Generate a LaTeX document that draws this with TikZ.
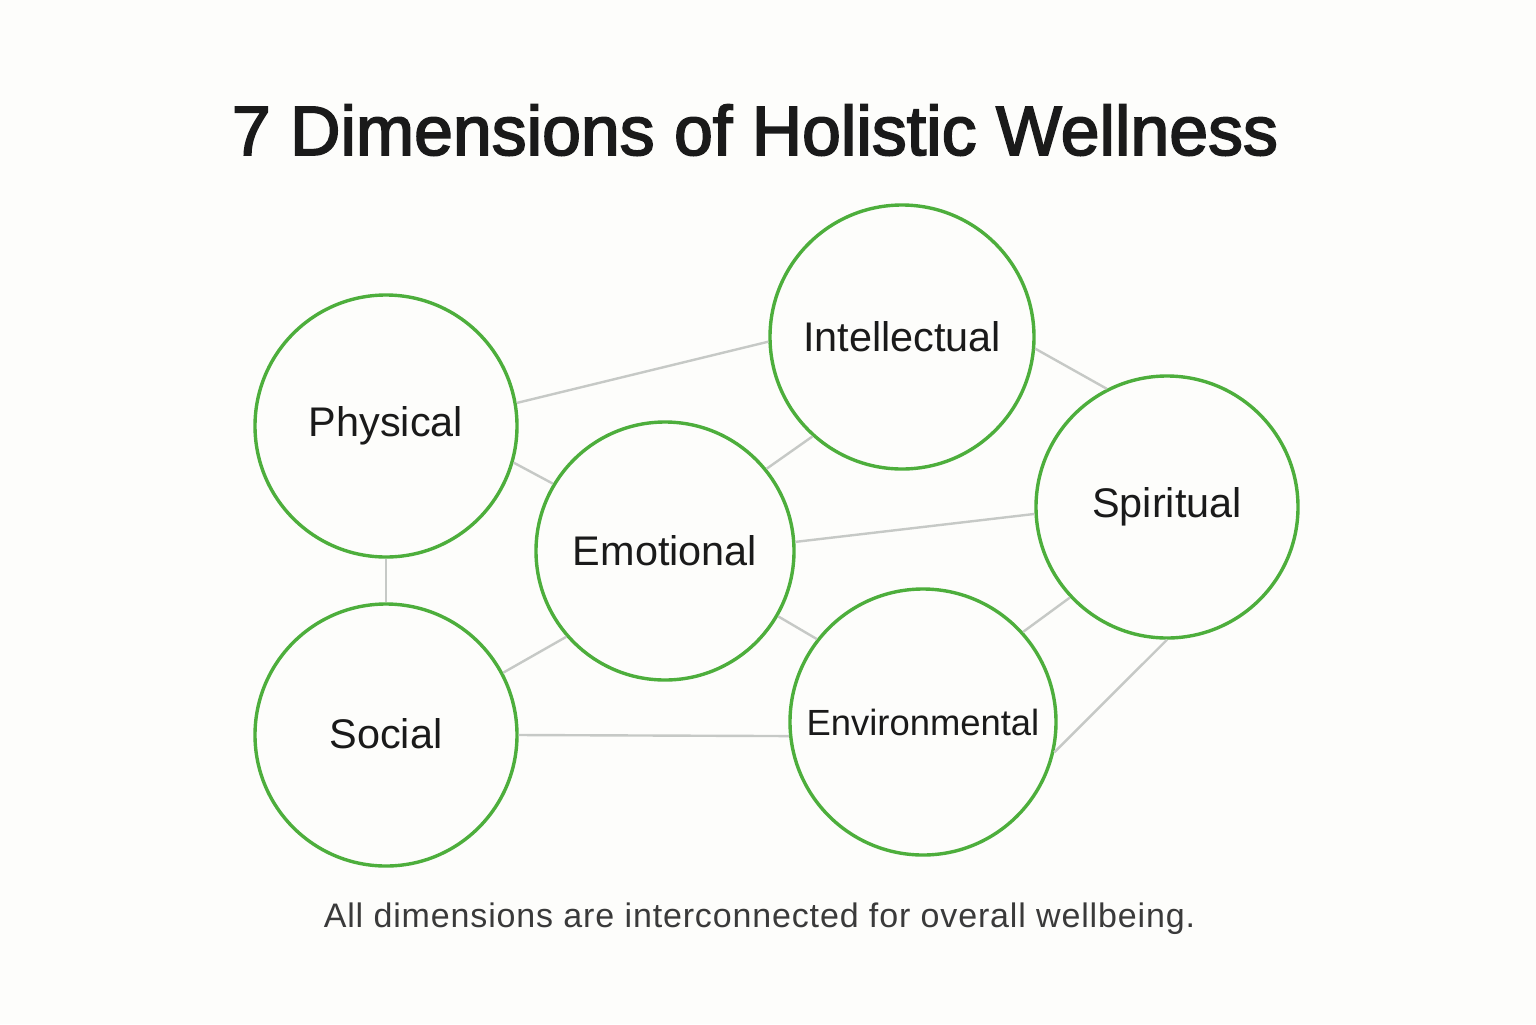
\documentclass[tikz,border=0pt]{standalone}
\usepackage{fontspec}
\setmainfont{Liberation Sans}
\newfontfamily\titlefont[FakeBold=2.5]{Liberation Sans}
\newfontfamily\subfont[LetterSpace=2.5]{Liberation Sans}
\definecolor{bgc}{HTML}{FDFDFB}
\definecolor{ringc}{HTML}{4DAE3C}
\definecolor{edgec}{HTML}{C6C9C6}
\definecolor{txtc}{HTML}{1A1A1A}
\definecolor{subc}{HTML}{3A3A3A}
\begin{document}
\begin{tikzpicture}[x=0.5pt,y=-0.5pt,
  dim/.style={circle, draw=ringc, line width=1.7pt, fill=bgc, text=txtc, font=\fontsize{20.7}{24}\selectfont},
  link/.style={draw=edgec, line width=1.2pt}]
\fill[bgc] (0,0) rectangle (1536,1024);
\useasboundingbox (0,0) rectangle (1536,1024);
\node[text=txtc, font=\titlefont\fontsize{34.9}{42}\selectfont] (title) at (755,130) {7 Dimensions of Holistic Wellness};
\node[dim, minimum size=131pt] (phys) at (386,426) {\raisebox{-0.5pt}{Physical}};
\node[dim, minimum size=132pt] (intel) at (902,337) {Intellectual};
\node[dim, minimum size=129pt] (emo) at (665,551) {Emotional};
\node[dim, minimum size=131pt] (spir) at (1167,507) {\raisebox{-1.5pt}{Spiritual}};
\node[dim, minimum size=131pt] (soc) at (386,735) {\raisebox{2pt}{Social}};
\node[dim, minimum size=133pt, font=\fontsize{18.2}{21}\selectfont] (env) at (923,722) {\raisebox{-1pt}{Environmental}};
\node[text=subc, font=\subfont\fontsize{17}{20}\selectfont] (sub) at (759.5,919) {All dimensions are interconnected for overall wellbeing.};
\draw[link] (phys.10) -- (intel.182);
\draw[link] (phys.-16) -- (emo.149);
\draw[link] (phys.270) -- (soc.90);
\draw[link] (emo.39) -- (intel.228);
\draw[link] (intel.-5) -- (spir.117);
\draw[link] (emo.4) -- (spir.183);
\draw[link] (emo.221) -- (soc.28);
\draw[link] (emo.-30) -- (env.142);
\draw[link] (spir.223) -- (env.42);
\draw[link] (spir.270) -- (env.-13);
\draw[link] (soc.0) -- (env.186);
\end{tikzpicture}
\end{document}
